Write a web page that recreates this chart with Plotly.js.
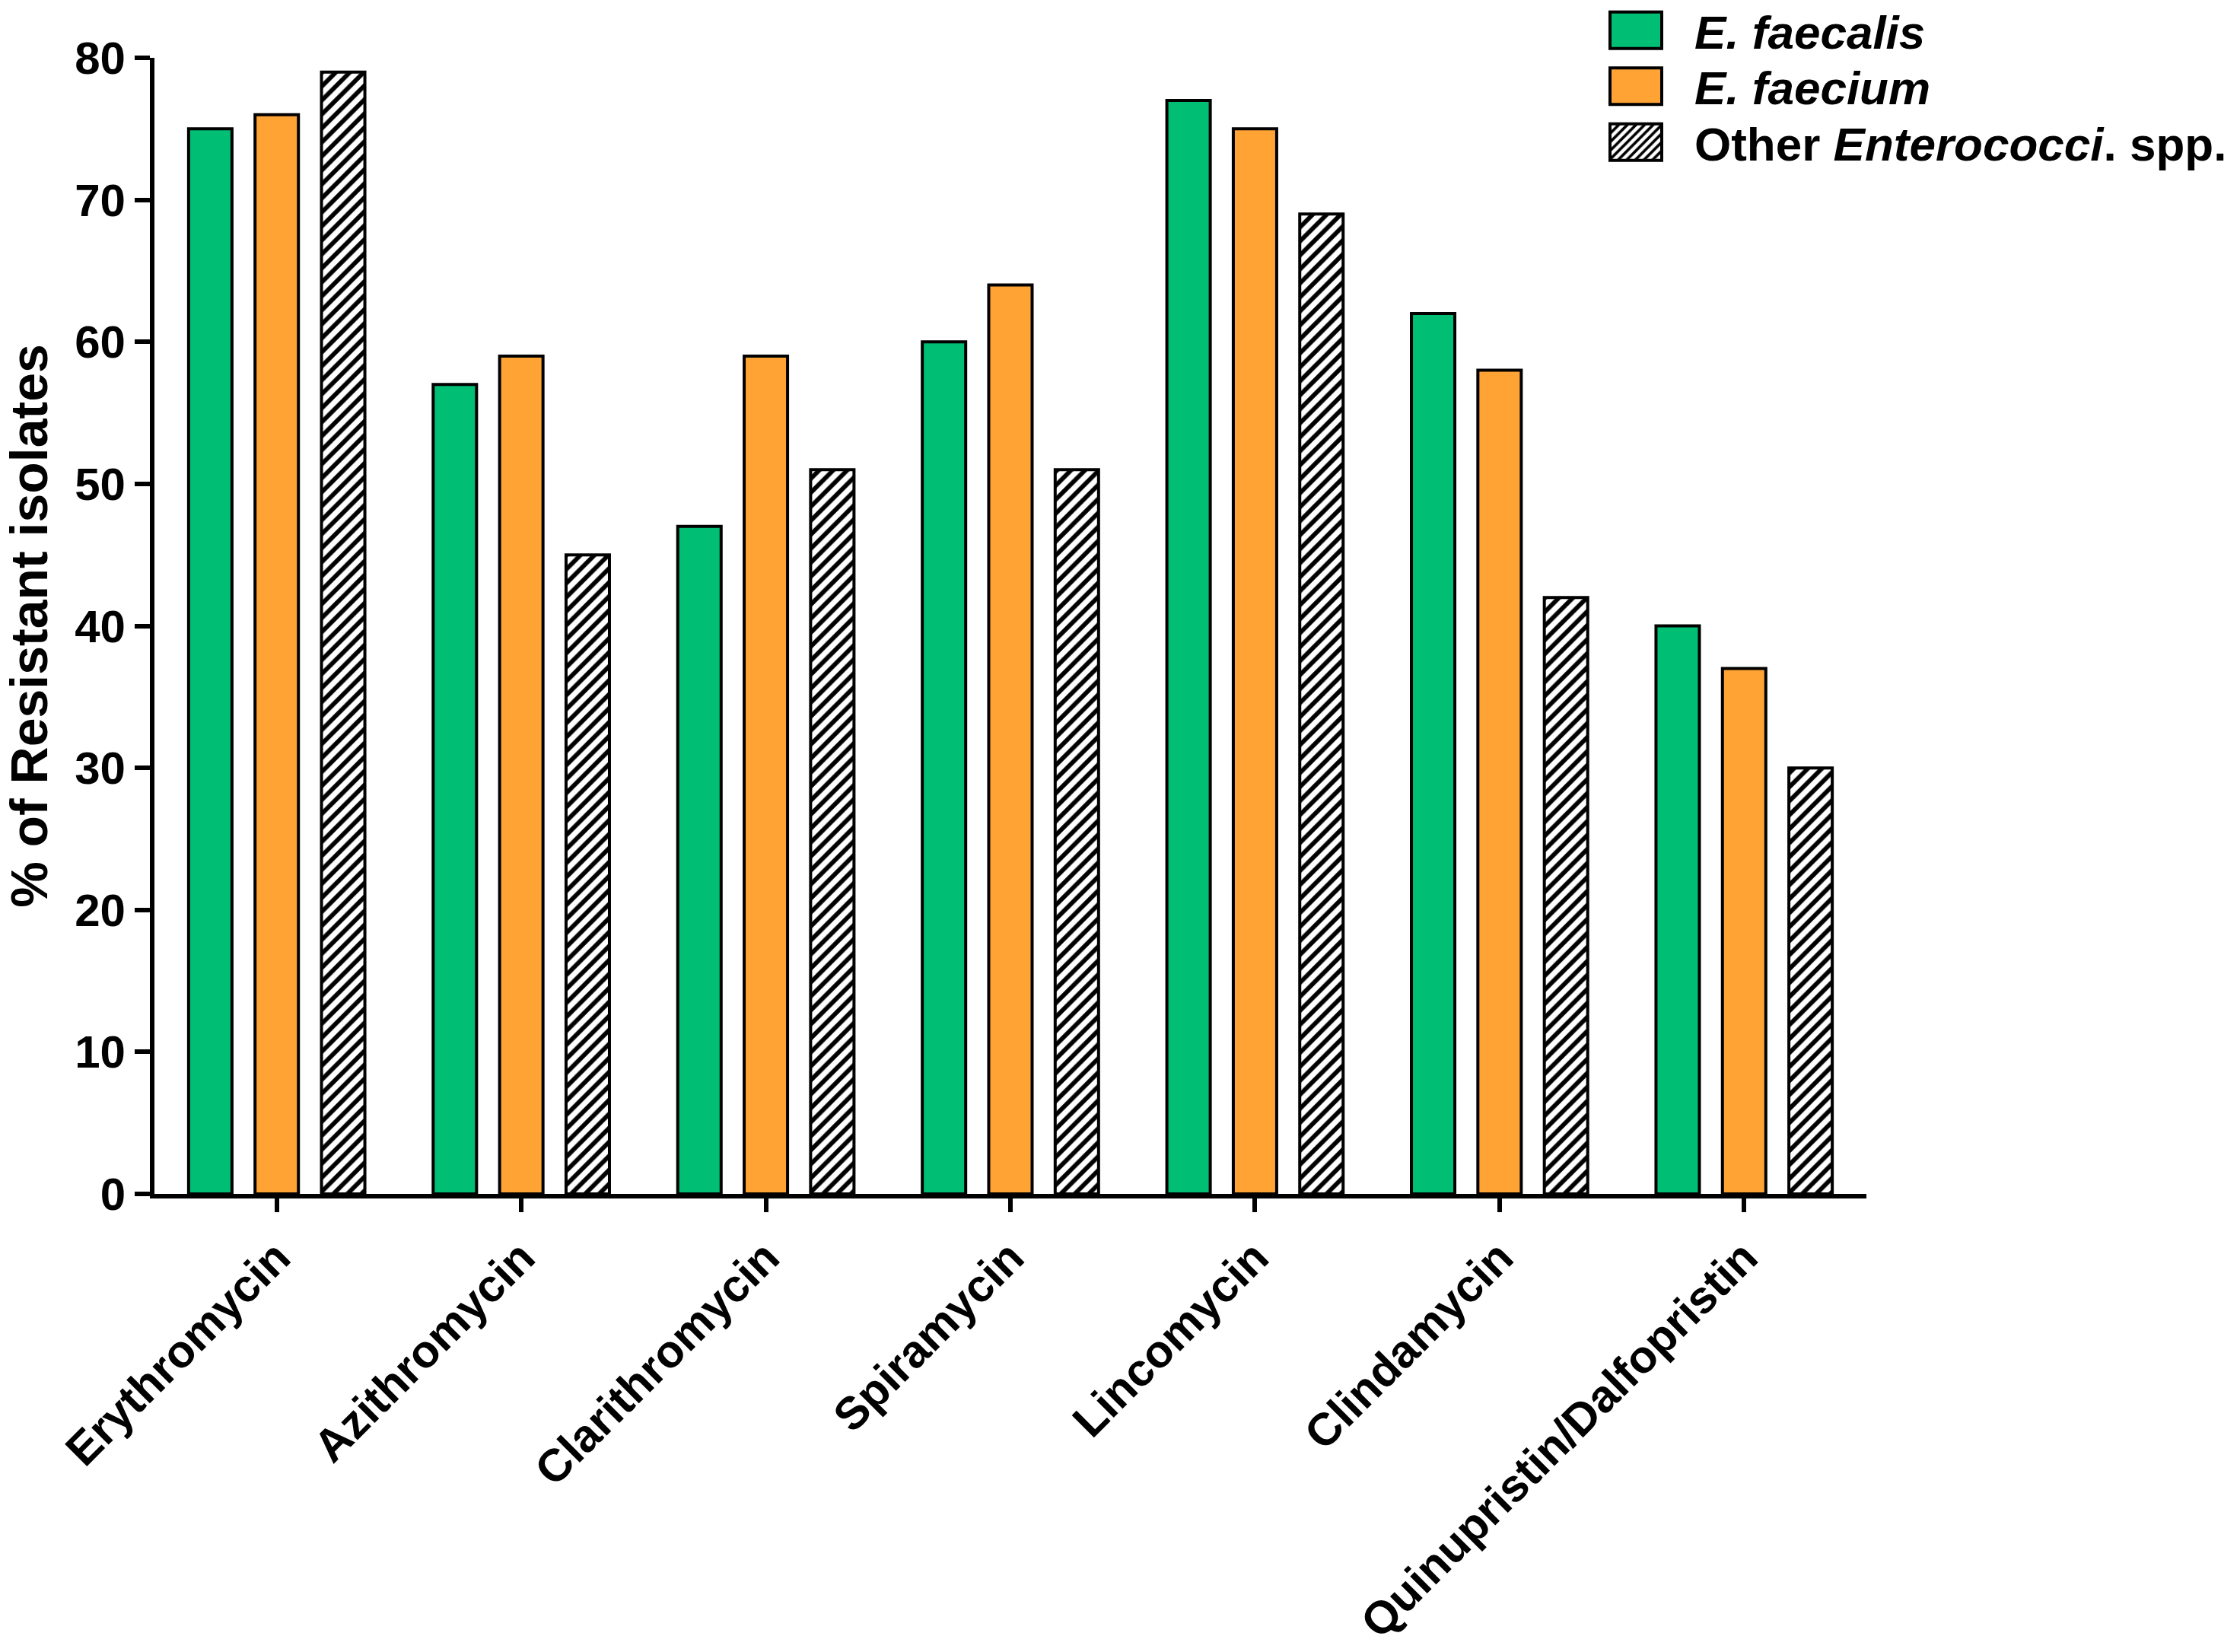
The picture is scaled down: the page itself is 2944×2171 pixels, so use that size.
<!DOCTYPE html>
<html>
<head>
<meta charset="utf-8">
<script src="https://cdn.plot.ly/plotly-3.0.1.min.js"></script>
<style>html,body{margin:0;padding:0;background:#fff;}#chart{width:2944px;height:2171px;}</style>
</head>
<body>
<div id="chart"></div>
<script>
const categories = ["Erythromycin", "Azithromycin", "Clarithromycin", "Spiramycin", "Lincomycin", "Clindamycin", "Quinupristin/Dalfopristin"];
const faecalis = [75, 57, 47, 60, 77, 62, 40];
const faecium = [76, 59, 59, 64, 75, 58, 37];
const otherSpp = [79, 45, 51, 51, 69, 42, 30];
const seriesNames = ["<i>E. faecalis</i>", "<i>E. faecium</i>", "Other <i>Enterococci</i>. spp."];
const yTicks = [0, 10, 20, 30, 40, 50, 60, 70, 80];

const FONT = "Liberation Sans, Arial, Helvetica, sans-serif";
const lineStyle = {color: "#000", width: 4};

const traces = [
  {type: "bar", name: seriesNames[0], x: categories, y: faecalis,
   marker: {color: "rgb(0,190,115)", line: lineStyle}},
  {type: "bar", name: seriesNames[1], x: categories, y: faecium,
   marker: {color: "rgb(255,163,52)", line: lineStyle}},
  {type: "bar", name: seriesNames[2], x: categories, y: otherSpp,
   marker: {color: "#fff", line: lineStyle,
            pattern: {shape: "/", fgcolor: "#000", bgcolor: "#fff", size: 13, solidity: 0.45, fillmode: "replace"}}}
];

const layout = {
  width: 2944, height: 2171,
  margin: {l: 203, r: 491, t: 76, b: 602, pad: 0, autoexpand: false},
  paper_bgcolor: "#fff", plot_bgcolor: "#fff",
  barmode: "group", bargap: 0.185, bargroupgap: 0.347,
  font: {family: FONT, size: 60, color: "#000", weight: "bold"},
  showlegend: true,
  legend: {xref: "container", yref: "container", x: 2073/2944, y: 1, xanchor: "left", yanchor: "top",
           bgcolor: "rgba(0,0,0,0)", borderwidth: 0, itemwidth: 144,
           font: {family: FONT, size: 62, color: "#000", weight: "bold"}},
  xaxis: {type: "category", showline: true, linewidth: 6, linecolor: "#000",
          ticks: "outside", ticklen: 18, tickwidth: 6, tickcolor: "#000",
          tickangle: -45, showgrid: false, zeroline: false, automargin: false,
          tickfont: {family: FONT, size: 60, color: "#000", weight: "bold"}},
  yaxis: {range: [0, 80], tickvals: yTicks, showline: true, linewidth: 6, linecolor: "#000",
          ticks: "outside", ticklen: 20, tickwidth: 6, tickcolor: "#000",
          showgrid: false, zeroline: false, automargin: false,
          tickfont: {family: FONT, size: 60, color: "#000", weight: "bold"},
          title: {text: "% of Resistant isolates", standoff: 28,
                  font: {family: FONT, size: 68, color: "#000", weight: "bold"}}}
};

Plotly.newPlot("chart", traces, layout, {displayModeBar: false, staticPlot: true}).then(function (gd) {
  // enlarge legend swatches to match the reference's rectangular keys
  gd.querySelectorAll(".legend .traces .legendpoints path").forEach(function (p) {
    p.setAttribute("d", "M34,24H-34V-24H34Z");
  });
  // tighten legend row pitch and lift rows to the reference's spacing
  const items = gd.querySelectorAll(".legend .traces");
  if (items.length) {
    const m = /translate\(\s*([-\d.]+)[ ,]+([-\d.]+)/.exec(items[0].getAttribute("transform") || "");
    if (m) {
      const x0 = parseFloat(m[1]), y0 = parseFloat(m[2]) - 7;
      items.forEach(function (el, i) {
        el.setAttribute("transform", "translate(" + x0 + "," + (y0 + i * 73.5) + ")");
      });
    }
  }
});
</script>
</body>
</html>
